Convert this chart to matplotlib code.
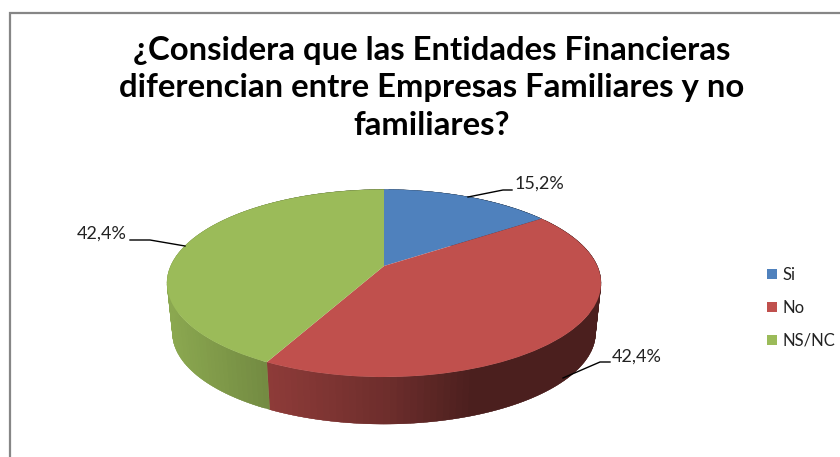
import numpy as np
import matplotlib
matplotlib.use("Agg")
import matplotlib.pyplot as plt
from matplotlib.transforms import Transform

plt.rcParams['font.family'] = ['Lato', 'DejaVu Sans']

categories = ['Si', 'No', 'NS/NC']
values = [15.2, 42.4, 42.4]
colors = ['#4F81BD', '#C0504D', '#9BBB59']
title = ('¿Considera que las Entidades Financieras\n'
         'diferencian entre Empresas Familiares y no\n'
         'familiares?')

# the pie is seen in perspective, the apex is above the middle of the ellipse
APEX_X, APEX_Y = 384, 266
SCALE_X, SCALE_Y, TILT = 213.3, 90.6, 0.184
# lower rim of the wall
DROP, SHRINK = 49.8, 0.975


def project(xy):
    xy = np.asarray(xy, dtype=float)
    w = 1 + TILT * xy[..., 1]
    return np.stack([APEX_X + SCALE_X * xy[..., 0] / w,
                     APEX_Y - SCALE_Y * xy[..., 1] / w], axis=-1)


class Perspective(Transform):
    input_dims = 2
    output_dims = 2
    is_separable = False
    has_inverse = False

    def transform_non_affine(self, values):
        return project(values)


def wall_shade(x):
    # darker to the right, flat after a while
    return np.interp(x, [-1, -0.55, 0, 0.4, 1], [0.90, 0.74, 0.57, 0.39, 0.39])


fig = plt.figure(figsize=(8.4, 4.57), dpi=100)
ax = fig.add_axes([0, 0, 1, 1])

wedges, _ = ax.pie(values, colors=colors, startangle=90, counterclock=False,
                   radius=1, wedgeprops={'linewidth': 0})
ax.set_aspect('auto')
ax.set_xlim(0, 840)
ax.set_ylim(457, 0)
ax.axis('off')

persp = Perspective()
for w in wedges:
    w.set_transform(persp + ax.transData)
    w.set_zorder(3)

# wall, one thin strip at a time, each one runs a bit under the next to hide seams
bounds = np.cumsum([0] + values) / sum(values) * 360
for i, col in enumerate(colors):
    rgb = np.array(matplotlib.colors.to_rgb(col))
    start, end = bounds[i], bounds[i + 1]
    n = max(int((end - start) / 1.5), 1)
    edges = np.linspace(start, end, n + 1)
    for a, b in zip(edges[:-1], edges[1:]):
        th = np.radians(np.linspace(a, min(b + 1.5, end), 5))
        top = project(np.stack([np.sin(th), np.cos(th)], axis=-1))
        low = np.stack([APEX_X + (top[:, 0] - APEX_X) * SHRINK,
                        APEX_Y + DROP + (top[:, 1] - APEX_Y) * SHRINK], axis=-1)
        poly = np.vstack([top, low[::-1]])
        c = rgb * wall_shade((top[:, 0].mean() - APEX_X) / 217)
        ax.fill(poly[:, 0], poly[:, 1], color=c, lw=0.2, zorder=2)

# chart frame, runs off the right and the bottom
ax.plot([9.5, 9.5, 840], [457, 13, 13], color='#868686', lw=1.6, zorder=1,
        solid_joinstyle='miter', clip_on=False)

ax.text(432, 88, title, ha='center', va='center', fontsize=23.7,
        fontweight='bold', color='black', linespacing=1.34)

labels = [f'{v:.1f}%'.replace('.', ',') for v in values]
label_pos = [(515, 184, 'left'), (612, 357, 'left'), (127, 234, 'right')]
leaders = [([468, 503, 512], [197, 190, 190]),
           ([563, 600, 610], [378, 362, 362]),
           ([185, 150, 130], [246, 240, 240])]
for lab, (x, y, ha), (lx, ly) in zip(labels, label_pos, leaders):
    ax.plot(lx, ly, color='black', lw=1, zorder=4)
    ax.text(x, y, lab, ha=ha, va='center', fontsize=13, color='#222222')

leg = ax.legend(wedges, categories, loc='center left', frameon=False,
                bbox_to_anchor=(767, 308), bbox_transform=ax.transData,
                fontsize=12, handlelength=0.6, handleheight=0.6,
                handletextpad=0.35, labelspacing=1.02, borderpad=0,
                borderaxespad=0, labelcolor='#222222')

fig.savefig('out.png', dpi=100)
